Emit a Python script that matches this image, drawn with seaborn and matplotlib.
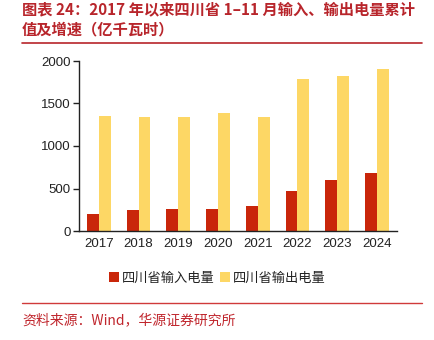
import matplotlib
matplotlib.use("Agg")
import matplotlib.pyplot as plt
import seaborn as sns
import pandas as pd
from matplotlib.patches import Patch
from matplotlib.lines import Line2D

years = ["2017", "2018", "2019", "2020", "2021", "2022", "2023", "2024"]
import_vals = [200, 243, 259, 255, 294, 467, 600, 686]
export_vals = [1356, 1345, 1341, 1385, 1345, 1785, 1820, 1906]
series_names = ["四川省输入电量", "四川省输出电量"]
colors = ["#C9260A", "#FDD765"]

sns.set_theme(style="white")
plt.rcParams['font.family'] = ['Noto Sans CJK SC', 'DejaVu Sans']

df = pd.DataFrame({
    "year": years * 2,
    "value": import_vals + export_vals,
    "series": [series_names[0]] * len(years) + [series_names[1]] * len(years),
})

fig = plt.figure(figsize=(4.35, 3.4), dpi=100)
ax = fig.add_axes([79/435, 1-231/340, (396.7-79)/435, 170/340])

sns.barplot(data=df, x="year", y="value", hue="series", palette=colors,
            width=0.6, gap=0, ax=ax, legend=False, saturation=1,
            linewidth=0, edgecolor="none")

ax.set_xlim(-0.5, len(years) - 0.5)
ax.set_ylim(0, 2000)
ax.set_yticks([0, 500, 1000, 1500, 2000])
ax.set_xlabel("")
ax.set_ylabel("")
for s in ["top", "right"]:
    ax.spines[s].set_visible(False)
for s in ["left", "bottom"]:
    ax.spines[s].set_color("#222222")
    ax.spines[s].set_linewidth(1.0)
ax.set_xticks([i - 0.5 for i in range(len(years) + 1)], minor=True)
ax.tick_params(axis="x", which="major", length=0, pad=5, labelsize=9.5, colors="#222222")
ax.tick_params(axis="x", which="minor", length=4, width=1.0, color="#222222")
ax.tick_params(axis="y", which="major", length=4, width=1.0, pad=2, labelsize=9.5,
               colors="#222222", left=True)
for lbl in ax.get_xticklabels() + ax.get_yticklabels():
    lbl.set_family(['Liberation Sans'])

title_color = "#B8252B"
fig.text(22/435, 1-9/340, "图表 24：2017 年以来四川省 1–11 月输入、输出电量累计",
         fontsize=11, fontweight="bold", color=title_color, va="center", ha="left")
fig.text(22/435, 1-29/340, "值及增速（亿千瓦时）",
         fontsize=11, fontweight="bold", color=title_color, va="center", ha="left")
fig.add_artist(Line2D([22/435, 422/435], [1-43/340, 1-43/340], color=title_color, lw=1.2))
fig.add_artist(Line2D([22/435, 422/435], [1-303/340, 1-303/340], color="#D03A3A", lw=1.0))
fig.text(22/435, 1-320/340, "资料来源：Wind，华源证券研究所",
         fontsize=10, color="#C0262D", va="center", ha="left")

handles = [Patch(facecolor=c, edgecolor="none") for c in colors]
fig.legend(handles, series_names, loc="center", bbox_to_anchor=(0.5, 1-278/340),
           ncol=2, frameon=False, fontsize=9.5, handlelength=0.75, handleheight=0.75,
           handletextpad=0.25, columnspacing=0.4, labelcolor="#222222")

fig.savefig("out.png", dpi=100)
